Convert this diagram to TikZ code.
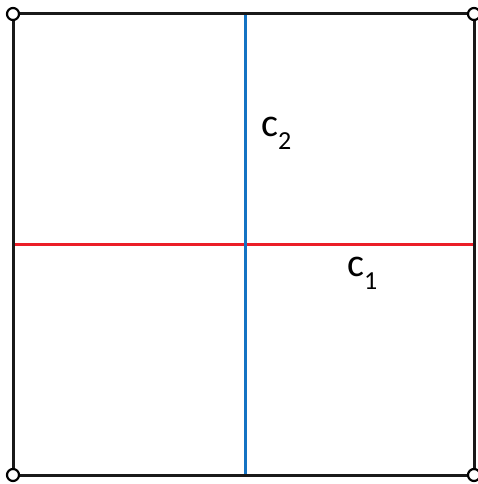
\documentclass[tikz,border=0pt]{standalone}
\usepackage{fontspec}
\setmainfont{Carlito}
\begin{document}
\begin{tikzpicture}[x=1pt,y=-1pt,
  corner/.style={circle,draw=black,fill=white,line width=2.2pt,minimum size=12pt,inner sep=0pt},
  edge/.style={line width=3pt,black!90},
  lbl/.style={anchor=base west,inner sep=0pt,font=\fontsize{40}{44}\selectfont}]
\useasboundingbox (0,0) rectangle (478,484);
\definecolor{cblue}{RGB}{20,115,195}
\definecolor{cred}{RGB}{235,30,40}
\coordinate (tl) at (13,14);
\coordinate (tr) at (474,14);
\coordinate (bl) at (13,475);
\coordinate (br) at (474,475);
\coordinate (vt) at (245,14);
\coordinate (vb) at (245,475);
\coordinate (hl) at (13,244);
\coordinate (hr) at (474,244);
\draw[cred,line width=3pt] (hl) -- (hr);
\draw[cblue,line width=3pt] (vt) -- (vb);
\draw[edge] (tl) -- (tr) -- (br) -- (bl) -- cycle;
\node[corner] (ctl) at (tl) {};
\node[corner] (ctr) at (tr) {};
\node[corner] (cbl) at (bl) {};
\node[corner] (cbr) at (br) {};
\node[lbl] (c2) at (261,136) {c\raisebox{-13pt}{\fontsize{26}{26}\selectfont 2}};
\node[lbl] (c1) at (347,276) {c\raisebox{-13pt}{\fontsize{26}{26}\selectfont 1}};
\end{tikzpicture}
\end{document}
